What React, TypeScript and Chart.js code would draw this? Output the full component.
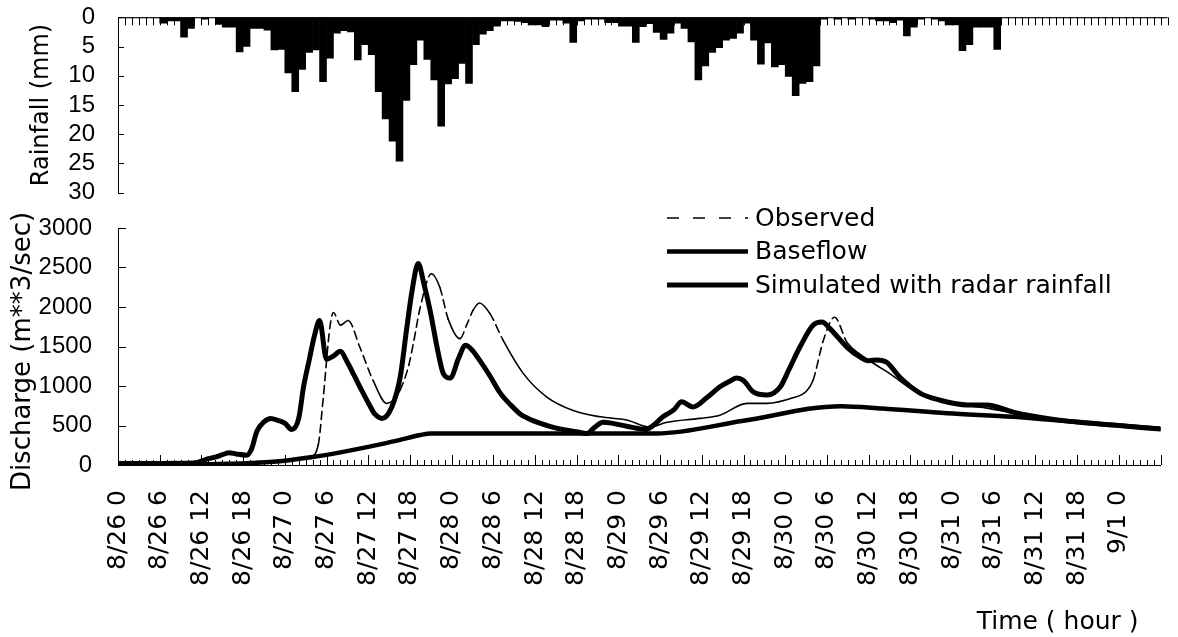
import React, { useEffect, useRef } from 'react';
import { Chart, registerables } from 'chart.js';

Chart.register(...registerables);

// ---------- data ----------
// hourly rainfall (mm), hour index 0 = 8/26 0:00
const RAINFALL_MM: number[] = [
  0, 0, 0, 0, 0, 0,
  1.0, 0.6, 0.6, 3.4, 1.9,
  0, 0.3, 0, 1.2, 1.7, 1.7,
  5.9, 5.0, 1.9, 1.9, 2.2, 5.6, 5.5,
  9.5, 12.7, 8.9, 6.0, 5.6, 11.0, 7.0,
  2.7, 2.3, 2.5, 7.3, 4.7, 6.4,
  12.7, 17.4, 21.2, 24.6, 14.2, 8.1,
  3.9, 7.2, 10.7, 18.6, 11.4, 10.5, 7.9, 11.3,
  4.7, 2.9, 2.3, 1.5, 0.6, 0.6, 0.7, 0.9,
  1.3, 1.3, 1.6, 0.5, 0.5, 1.0, 4.3, 0.6,
  0.3, 0.3, 0.3, 0.9, 0.9, 1.5, 1.5,
  4.3, 1.6, 1.1, 2.6, 3.8, 2.7, 1.0, 1.9, 4.2,
  10.7, 8.3, 6.0, 5.2, 3.9, 3.6, 2.7, 1.0, 3.9,
  8.0, 4.4, 8.5, 8.1, 10.1, 13.4, 11.3, 11.0, 8.3,
  0.3, 0, 0.3, 0, 0.3, 0, 0, 0.3, 0.6, 0.6,
  0.9, 0.5, 3.2, 1.7, 0.3, 0, 0.3, 0.6,
  1.3, 1.3, 5.7, 4.7, 1.7, 1.7, 1.7, 5.5,
  0, 0, 0, 0, 0, 0, 0, 0, 0, 0, 0, 0,
  0, 0, 0, 0, 0, 0, 0, 0, 0, 0, 0, 0,
];

const TIME_LABELS: string[] = [
  '8/26 0', '8/26 6', '8/26 12', '8/26 18',
  '8/27 0', '8/27 6', '8/27 12', '8/27 18',
  '8/28 0', '8/28 6', '8/28 12', '8/28 18',
  '8/29 0', '8/29 6', '8/29 12', '8/29 18',
  '8/30 0', '8/30 6', '8/30 12', '8/30 18',
  '8/31 0', '8/31 6', '8/31 12', '8/31 18',
  '9/1 0',
];
const TICK_STEP_H = 6;

const OBS_HOURS: number[] = [
  0, 12, 18, 24, 27.6, 28.8, 29.5, 30.5, 31, 32,
  33.1, 34.8, 36.7, 38.7, 39.6, 40.6, 41.8, 42.5, 43.5, 45.1,
  46.3, 47.5, 49.2, 50.2, 51.1, 52, 53.5, 55.4, 58.3, 61.7,
  65.5, 69.4, 73.2, 76.5, 79, 83.7, 86.6, 90.5, 93.4, 97.1,
  99, 100, 101.5, 103.1, 104.9, 106.8, 109.2, 111, 114.4, 118.3,
  122.2, 125, 128.8, 133.7, 138.4, 143.2, 150,
];
const OBS_Q: number[] = [
  10, 15, 30, 60, 100, 250, 820, 1750, 1930, 1770,
  1830, 1490, 1070, 780, 820, 950, 1250, 1540, 2000, 2420,
  2250, 1850, 1600, 1780, 1960, 2050, 1920, 1580, 1160, 860,
  690, 610, 570, 480, 540, 590, 630, 780, 780, 850,
  930, 1070, 1580, 1870, 1550, 1400, 1260, 1160, 950, 820,
  750, 720, 660, 585, 540, 505, 455,
];

const SIM_HOURS: number[] = [
  0, 6, 11, 12, 13, 14, 15, 16, 17, 18.5,
  19.2, 20, 21, 22, 23, 24, 25, 26, 26.7, 27.6,
  28.3, 29, 30, 31, 32, 33, 34, 34.8, 36.3, 37,
  38, 39.4, 40.6, 41.5, 42.3, 43.2, 44, 44.9, 46, 46.8,
  47.8, 49, 50, 51, 52, 53.5, 55, 56.5, 57.8, 59,
  60.7, 62.5, 64.6, 66, 67.5, 68.5, 69.8, 71, 73.2, 76,
  77, 78.4, 80, 81.1, 82.7, 84.7, 86.6, 88, 89, 90,
  91.4, 93.4, 95.3, 96.5, 98.1, 100, 101.3, 102.4, 104.9, 106.8,
  108, 109.2, 110.6, 112.5, 115.4, 118.3, 122.2, 125, 128.8, 133.7,
  138.4, 143.2, 150,
];
const SIM_Q: number[] = [
  20, 20, 25, 50, 80, 100, 130, 155, 140, 125,
  200, 430, 545, 590, 565, 530, 450, 590, 990, 1365,
  1650, 1830, 1340, 1380, 1440, 1300, 1130, 990, 740, 640,
  590, 735, 1110, 1700, 2200, 2550, 2300, 1960, 1450, 1160,
  1100, 1350, 1515, 1450, 1330, 1130, 910, 760, 650, 590,
  530, 480, 440, 420, 400, 470, 540, 530, 490, 450,
  500, 610, 700, 800, 735, 850, 990, 1060, 1100, 1070,
  925, 885, 990, 1200, 1490, 1770, 1810, 1730, 1490, 1365,
  1320, 1330, 1300, 1110, 910, 820, 760, 760, 670, 590,
  540, 505, 455,
];

const BASE_HOURS: number[] = [
  0, 12, 16, 20, 24, 28, 32, 36, 40, 43.5,
  45, 77.5, 90, 104, 110, 119.3, 128.8, 133.7, 138.4, 143.2, 150,
];
const BASE_Q: number[] = [
  5, 10, 15, 30, 55, 100, 160, 230, 305, 380,
  400, 400, 560, 745, 715, 655, 610, 575, 540, 505, 460,
];

const SERIES_LABELS: string[] = ['Observed', 'Baseflow', 'Simulated with radar rainfall'];
const RAIN_TITLE = 'Rainfall (mm)';
const Q_TITLE = 'Discharge (m**3/sec)';
const X_TITLE = 'Time ( hour )';

// ---------- styles ----------
const ARIAL = "'Liberation Sans', Arial, sans-serif";
const DEJAVU = "'DejaVu Sans', sans-serif";
const LEGEND_DASH = [12, 14];

const pairs = (xs: number[], ys: number[]) => xs.map((x, i) => ({ x, y: ys[i] }));

const steepDash = (ctx: any) => {
  const dx = Math.abs(ctx.p1.x - ctx.p0.x) || 1e-6;
  const dy = Math.abs(ctx.p1.y - ctx.p0.y);
  return dy / dx > 1.8 ? [8, 5] : undefined;
};

const fixY = (width: number) => (s: any) => {
  s.width = width;
  s.paddingTop = 0;
  s.paddingBottom = 0;
};

const topDecor = {
  id: 'topDecor',
  afterDatasetsDraw(chart: any) {
    const { ctx, chartArea: ca } = chart;
    const x = chart.scales.x;
    const y = chart.scales.y;
    ctx.save();
    ctx.strokeStyle = '#000';
    ctx.lineWidth = 1;
    ctx.beginPath();
    ctx.moveTo(ca.left, ca.top + 0.5);
    ctx.lineTo(ca.right, ca.top + 0.5);
    for (let h = x.min; h <= x.max; h++) {
      const px = Math.round(x.getPixelForValue(h)) + 0.5;
      ctx.moveTo(px, ca.top);
      ctx.lineTo(px, ca.top + 8);
    }
    y.ticks.forEach((t: any) => {
      const py = Math.round(y.getPixelForValue(t.value)) + 0.5;
      ctx.moveTo(ca.left, py);
      ctx.lineTo(ca.left + 6, py);
    });
    ctx.stroke();
    ctx.fillStyle = '#000';
    ctx.font = `24px ${DEJAVU}`;
    ctx.textAlign = 'center';
    ctx.textBaseline = 'middle';
    ctx.translate(ca.left - 76, (ca.top + ca.bottom) / 2);
    ctx.rotate(-Math.PI / 2);
    ctx.fillText(RAIN_TITLE, 0, 0);
    ctx.restore();
  },
};

const bottomDecor = {
  id: 'bottomDecor',
  afterDatasetsDraw(chart: any) {
    const { ctx, chartArea: ca } = chart;
    const x = chart.scales.x;
    const y = chart.scales.y;
    ctx.save();
    ctx.strokeStyle = '#000';
    ctx.lineWidth = 1;
    ctx.beginPath();
    for (let h = x.min; h <= x.max; h++) {
      const px = Math.round(x.getPixelForValue(h)) + 0.5;
      const len = h % TICK_STEP_H === 0 ? 10 : 5;
      ctx.moveTo(px, ca.bottom);
      ctx.lineTo(px, ca.bottom - len);
    }
    y.ticks.forEach((t: any) => {
      const py = Math.round(y.getPixelForValue(t.value)) + 0.5;
      ctx.moveTo(ca.left, py);
      ctx.lineTo(ca.left + 8, py);
    });
    ctx.stroke();

    // legend
    const x0 = ca.left + 549;
    ctx.font = `25px ${DEJAVU}`;
    ctx.fillStyle = '#000';
    ctx.textAlign = 'left';
    ctx.textBaseline = 'middle';
    chart.data.datasets.forEach((ds: any, i: number) => {
      const yy = ca.top - 10 + i * 33.5;
      ctx.save();
      ctx.lineWidth = ds.borderWidth;
      ctx.setLineDash(i === 0 ? LEGEND_DASH : []);
      ctx.beginPath();
      ctx.moveTo(x0, yy);
      ctx.lineTo(x0 + 81, yy);
      ctx.stroke();
      ctx.restore();
      ctx.fillText(ds.label, x0 + 88, yy + 1);
    });

    // axis titles
    ctx.textAlign = 'right';
    ctx.fillText(X_TITLE, ca.right - 22, ca.bottom + 157);
    ctx.font = `26px ${DEJAVU}`;
    ctx.textAlign = 'center';
    ctx.translate(ca.left - 95, (ca.top + ca.bottom) / 2 + 5);
    ctx.rotate(-Math.PI / 2);
    ctx.fillText(Q_TITLE, 0, 0);
    ctx.restore();
  },
};

export default function App() {
  const topRef = useRef<HTMLCanvasElement | null>(null);
  const botRef = useRef<HTMLCanvasElement | null>(null);

  useEffect(() => {
    const top = new Chart(topRef.current as HTMLCanvasElement, {
      type: 'bar',
      data: {
        datasets: [
          {
            label: 'Rainfall',
            data: RAINFALL_MM.map((v, i) => ({ x: i + 0.5, y: v })),
            backgroundColor: '#000',
            borderWidth: 0,
            barPercentage: 1,
            categoryPercentage: 1,
          } as any,
        ],
      },
      options: {
        responsive: false,
        animation: false,
        devicePixelRatio: 1,
        layout: { padding: { left: 0, right: 10.5, top: 17.3, bottom: 12.3 } },
        plugins: { legend: { display: false }, tooltip: { enabled: false } },
        scales: {
          x: { type: 'linear', min: 0, max: 151, display: false, offset: false },
          y: {
            reverse: true,
            min: 0,
            max: 30,
            ticks: {
              stepSize: 5,
              autoSkip: false,
              padding: 23,
              color: '#000',
              font: { family: ARIAL, size: 24 },
              callback: (v: any) => String(v),
            },
            grid: { display: false, drawTicks: false },
            border: { display: true, color: '#000', width: 1 },
            afterFit: fixY(118),
          },
        },
      } as any,
      plugins: [topDecor],
    });

    const bottom = new Chart(botRef.current as HTMLCanvasElement, {
      type: 'line',
      data: {
        datasets: [
          {
            label: SERIES_LABELS[0],
            data: pairs(OBS_HOURS, OBS_Q),
            borderColor: '#000',
            borderWidth: 1.6,
            segment: { borderDash: steepDash },
          } as any,
          {
            label: SERIES_LABELS[1],
            data: pairs(BASE_HOURS, BASE_Q),
            borderColor: '#000',
            borderWidth: 4.5,
          },
          {
            label: SERIES_LABELS[2],
            data: pairs(SIM_HOURS, SIM_Q),
            borderColor: '#000',
            borderWidth: 5,
          },
        ],
      },
      options: {
        responsive: false,
        animation: false,
        devicePixelRatio: 1,
        layout: { padding: { left: 0, right: 17.5, top: 23, bottom: 0 } },
        elements: {
          point: { radius: 0 },
          line: { cubicInterpolationMode: 'monotone', borderCapStyle: 'round', borderJoinStyle: 'round', fill: false },
        },
        plugins: { legend: { display: false }, tooltip: { enabled: false } },
        scales: {
          x: {
            type: 'linear',
            min: 0,
            max: 150,
            afterBuildTicks: (s: any) => {
              s.ticks = TIME_LABELS.map((_, i) => ({ value: i * TICK_STEP_H }));
            },
            ticks: {
              autoSkip: false,
              minRotation: 90,
              maxRotation: 90,
              padding: 25,
              color: '#000',
              font: { family: DEJAVU, size: 25 },
              callback: (_v: any, i: number) => TIME_LABELS[i],
            },
            grid: { display: false, drawTicks: false },
            border: { display: true, color: '#000', width: 1 },
            afterFit: (s: any) => {
              s.height = 172;
              s.paddingLeft = 0;
              s.paddingRight = 0;
            },
          },
          y: {
            min: 0,
            max: 3000,
            ticks: {
              stepSize: 500,
              autoSkip: false,
              padding: 26,
              color: '#000',
              font: { family: ARIAL, size: 24 },
              callback: (v: any) => String(v),
            },
            grid: { display: false, drawTicks: false },
            border: { display: true, color: '#000', width: 1 },
            afterFit: fixY(118),
          },
        },
      } as any,
      plugins: [bottomDecor],
    });

    return () => {
      top.destroy();
      bottom.destroy();
    };
  }, []);

  return (
    <div style={{ position: 'absolute', left: 0, top: 0, width: 1178, height: 637, background: '#fff' }}>
      <canvas ref={topRef} width={1178} height={205} style={{ position: 'absolute', left: 0, top: 0 }} />
      <canvas ref={botRef} width={1178} height={432} style={{ position: 'absolute', left: 0, top: 205 }} />
    </div>
  );
}
